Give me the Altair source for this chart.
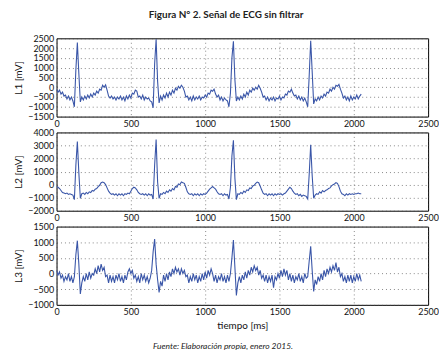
import altair as alt
import pandas as pd

# sample times (ms), one value every 10 ms
t_ms = list(range(0, 2051, 10))

L1 = [
    -100, -250, -150, -350, -250, -450, -400, -600, -450, -650,
    -500, -700, -1000, 900, 2280, 700, -750, -500, -650, -450,
    -600, -400, -550, -350, -500, -300, -400, -200, -300, -100,
    -150, 100, 0, 120, -150, -450, -550, -450, -600, -500,
    -650, -500, -600, -450, -650, -500, -700, -450, -600, -400,
    -550, -300, -350, -150, -200, -500, -450, -600, -400, -650,
    -500, -600, -550, -700, -750, -1050, 1200, 2450, 300, -800,
    -450, -650, -400, -550, -300, -500, -250, -400, -150, -300,
    -50, -150, 50, -50, 100, 0, -200, -500, -450, -650,
    -500, -700, -450, -650, -500, -600, -450, -650, -500, -550,
    -400, -500, -300, -350, -150, -200, -100, -350, -500, -400,
    -650, -500, -700, -550, -650, -700, -1000, -300, 1500, 2350,
    400, -700, -500, -650, -450, -600, -350, -500, -250, -400,
    -150, -250, -50, -150, 0, -100, 100, -50, -250, -500,
    -450, -650, -500, -700, -550, -650, -500, -700, -550, -600,
    -450, -650, -500, -550, -350, -400, -200, -250, -100, -300,
    -450, -400, -600, -450, -650, -500, -700, -550, -750, -1000,
    600, 2380, 800, -850, -600, -700, -500, -650, -450, -550,
    -350, -450, -250, -300, -100, -200, 0, -100, 100, 50,
    150, -100, -300, -550, -450, -650, -500, -700, -450, -650,
    -500, -600, -400, -600, -450, -350,
]

L2 = [
    -150, -200, -300, -450, -600, -650, -700, -650, -750, -700,
    -750, -800, -1150, 1500, 3300, 900, -1050, -700, -650, -750,
    -600, -700, -550, -600, -450, -500, -350, -300, -150, -50,
    150, 200, 150, 0, -250, -500, -650, -750, -700, -800,
    -700, -850, -700, -800, -700, -850, -700, -750, -650, -700,
    -500, -300, -200, -250, -400, -600, -700, -750, -700, -800,
    -700, -850, -700, -800, -750, -1100, 1500, 3450, 200, -1050,
    -700, -750, -600, -700, -500, -600, -400, -500, -300, -400,
    -150, -200, 50, 0, 200, 150, 100, -200, -550, -700,
    -750, -700, -850, -700, -800, -700, -850, -700, -800, -700,
    -750, -650, -500, -350, -250, -150, -250, -350, -550, -700,
    -750, -700, -850, -700, -800, -750, -1100, -200, 2200, 3400,
    500, -1150, -700, -750, -600, -700, -500, -600, -400, -450,
    -250, -300, -100, -50, 100, 200, 150, -100, -400, -650,
    -750, -700, -850, -700, -800, -700, -850, -700, -800, -700,
    -750, -700, -800, -700, -650, -500, -350, -200, -300, -500,
    -650, -750, -700, -850, -750, -900, -800, -850, -900, -1100,
    800, 3050, 700, -1050, -800, -700, -750, -550, -650, -450,
    -550, -450, -400, -300, -250, -100, 0, 50, 150, 100,
    -150, -500, -700, -750, -850, -700, -800, -700, -750, -700,
    -750, -700, -700, -650, -700, -700,
]

L3 = [
    100, -50, 50, -150, -50, -250, -100, -200, 0, -250,
    -100, -300, -100, 600, 1050, 300, -650, -300, -100, -250,
    0, -200, 50, -150, 0, -50, 150, 0, 250, 50,
    300, 100, 200, -100, -50, -300, -50, -250, -100, -300,
    -50, -200, 0, -250, -100, -300, -50, -200, 50, 150,
    0, 100, -150, -50, -250, -100, -300, 0, -200, -50,
    -250, -100, -300, -150, 100, 700, 1100, 300, -200, -600,
    -250, -400, -50, -250, 0, -200, 50, -100, 150, 0,
    200, 50, 150, -50, 150, 0, 100, -100, -50, -300,
    -100, -250, 0, -200, -50, -300, -100, -250, 0, -200,
    50, -150, 100, -50, 150, 0, -250, -50, -300, -100,
    -200, 0, -250, -100, -300, -50, -250, 0, 500, 1070,
    200, -700, -300, -100, -300, -50, -200, 50, -150, 100,
    -50, 200, 50, 250, 100, 200, -50, 100, -150, -50,
    -250, -50, -300, -100, -250, -50, -450, -100, -200, 0,
    -150, 100, -100, 150, -50, 100, -200, 0, -250, -50,
    -300, -100, -200, 0, -250, -100, -300, 0, -150, -100,
    400, 870, 100, -570, -200, -350, -100, -250, 0, -200,
    100, -100, 150, 0, 200, 50, 250, 100, 350, 50,
    200, -100, 0, -250, -100, -300, -50, -250, -50, -300,
    -100, -250, 0, -200, -50, -250,
]

x_ticks = [0, 500, 1000, 1500, 2000, 2500]
L1_ticks = [-1500, -1000, -500, 0, 500, 1000, 1500, 2000, 2500]
L2_ticks = [-2000, -1000, 0, 1000, 2000, 3000, 4000]
L3_ticks = [-1000, -500, 0, 500, 1000, 1500]

title_text = "Figura N° 2. Señal de ECG sin filtrar"
x_title = "tiempo [ms]"
footer_text = "Fuente: Elaboración propia, enero 2015."

FONT = "Lato"
LINE = "#3a56a8"
W, H = 375, 79


def panel(vals, yticks, ytitle, with_xtitle=False):
    df = pd.DataFrame({"t": t_ms, "v": vals})
    xkw = dict(values=x_ticks, grid=True, labelFlush=False, format="d")
    if with_xtitle:
        xkw["title"] = x_title
    else:
        xkw["title"] = None
    line = alt.Chart(df).mark_line(color=LINE, strokeWidth=1.1, clip=True).encode(
        x=alt.X("t:Q", scale=alt.Scale(domain=[0, 2500], nice=False),
                axis=alt.Axis(**xkw)),
        y=alt.Y("v:Q", scale=alt.Scale(domain=[yticks[0], yticks[-1]], nice=False),
                axis=alt.Axis(values=yticks, grid=True, title=ytitle,
                              labelFlush=False, format="d")),
    ).properties(width=W, height=H)
    return line


p1 = panel(L1, L1_ticks, "L1 [mV]")
p2 = panel(L2, L2_ticks, "L2 [mV]")
p3 = panel(L3, L3_ticks, "L3 [mV]", with_xtitle=True)

foot_df = pd.DataFrame({"txt": [footer_text]})
footer = alt.Chart(foot_df).mark_text(
    font=FONT, fontSize=8.5, fontStyle="italic", color="#222", align="center", baseline="middle"
).encode(text="txt:N", x=alt.value(168), y=alt.value(121))

p3 = alt.layer(p3, footer).properties(width=W, height=H)

chart = alt.vconcat(p1, p2, p3, spacing=16, bounds="flush").properties(
    title=alt.TitleParams(title_text, font=FONT, fontSize=10, fontWeight="bold",
                          anchor="middle", offset=14, color="#222"),
    padding={"left": 5, "top": 0, "right": 0, "bottom": 0},
).configure_view(
    stroke="black", strokeWidth=1
).configure_axis(
    domain=False, ticks=False, labelFont=FONT, labelFontSize=9, labelColor="#111",
    labelPadding=3, titleFont=FONT, titleFontSize=10, titleFontWeight="normal",
    titleColor="#111", titlePadding=4, gridColor="#444", gridDash=[1, 3],
    gridWidth=0.8, gridOpacity=0.8,
)

chart.save("out.html", embed_options={"renderer": "svg", "actions": False})
